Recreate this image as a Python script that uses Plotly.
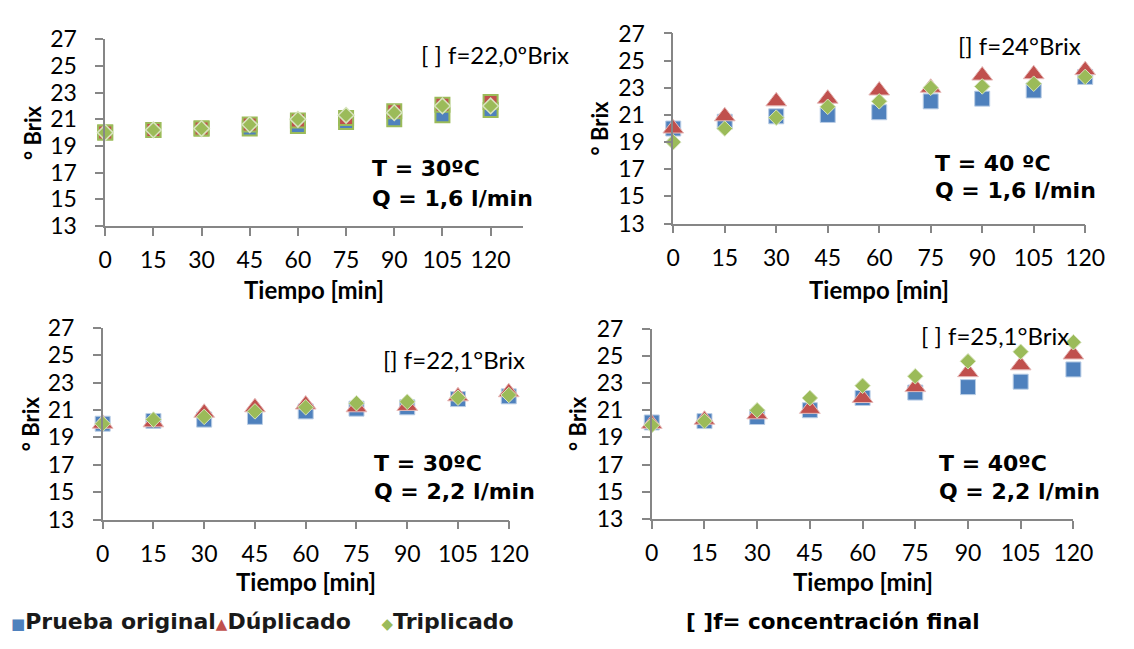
import plotly.graph_objects as go

W, H = 1134, 649

# ---------------- data ----------------
tiempo = [0, 15, 30, 45, 60, 75, 90, 105, 120]
x_ticks = [0, 15, 30, 45, 60, 75, 90, 105, 120]
y_ticks = [13, 15, 17, 19, 21, 23, 25, 27]

# T = 30 C, Q = 1,6 l/min
orig_30_16 = [20.0, 20.2, 20.3, 20.3, 20.5, 20.8, 21.0, 21.3, 21.7]
dup_30_16 = [20.0, 20.2, 20.3, 20.6, 20.9, 21.1, 21.6, 22.1, 22.3]
tri_30_16 = [20.0, 20.2, 20.3, 20.6, 21.0, 21.3, 21.5, 22.0, 22.0]

# T = 40 C, Q = 1,6 l/min
orig_40_16 = [20.0, 20.5, 20.9, 21.0, 21.2, 22.0, 22.2, 22.8, 23.8]
dup_40_16 = [20.0, 20.9, 22.0, 22.2, 22.8, 23.0, 23.9, 24.0, 24.3]
tri_40_16 = [19.0, 20.0, 20.8, 21.6, 22.0, 23.0, 23.1, 23.3, 23.8]

# T = 30 C, Q = 2,2 l/min
orig_30_22 = [20.0, 20.2, 20.3, 20.5, 20.9, 21.1, 21.2, 21.8, 22.0]
dup_30_22 = [20.0, 20.1, 20.8, 21.2, 21.4, 21.2, 21.3, 22.0, 22.3]
tri_30_22 = [20.0, 20.3, 20.5, 20.9, 21.2, 21.5, 21.6, 21.9, 22.1]

# T = 40 C, Q = 2,2 l/min
orig_40_22 = [20.1, 20.2, 20.5, 21.0, 21.9, 22.3, 22.7, 23.1, 24.0]
dup_40_22 = [20.0, 20.3, 20.7, 21.1, 21.9, 22.7, 23.8, 24.3, 25.1]
tri_40_22 = [19.9, 20.2, 21.0, 21.9, 22.8, 23.5, 24.6, 25.3, 26.0]

series_names = ["Prueba original", "Dúplicado", "Triplicado"]
f_labels = ["[ ] f=22,0ºBrix", "[] f=24°Brix", "[] f=22,1°Brix", "[ ] f=25,1°Brix"]
t_labels = ["T = 30ºC", "T = 40 ºC", "T = 30ºC", "T = 40ºC"]
q_labels = ["Q = 1,6 l/min", "Q = 1,6 l/min", "Q = 2,2 l/min", "Q = 2,2 l/min"]
x_title = "Tiempo [min]"
y_title = "° Brix"
note = "[ ]f= concentración final"

# ---------------- styling ----------------
BLUE, RED, GREEN = "#4F81BD", "#C0504D", "#9BBB59"
AX = "#868686"

def px_x(p):
    return p / W

def px_y(p):
    return 1 - p / H

# panel geometry (pixels): x0, x1 of axis, y of 27 and y of 13, x range max
panels = [
    dict(x0=100.6, x1=528.3, ytop=25.5, ybot=220.3, xmax=130),
    dict(x0=682.5, x1=1104.5, ytop=19.3, ybot=218.0, xmax=120),
    dict(x0=98.0, x1=514.0, ytop=327.0, ybot=527.3, xmax=120),
    dict(x0=660.5, x1=1092.4, ytop=327.8, ybot=526.7, xmax=120),
]
data_sets = [
    (orig_30_16, dup_30_16, tri_30_16),
    (orig_40_16, dup_40_16, tri_40_16),
    (orig_30_22, dup_30_22, tri_30_22),
    (orig_40_22, dup_40_22, tri_40_22),
]

fig = go.Figure()
layout = dict(width=W, height=H, margin=dict(l=0, r=0, t=0, b=0),
              paper_bgcolor="white", plot_bgcolor="white", showlegend=False)

tickfont = dict(family="Lato, Open Sans, sans-serif", size=23, color="black")

for i, (p, (o, d, t3)) in enumerate(zip(panels, data_sets)):
    n = "" if i == 0 else str(i + 1)
    xa, ya = "x" + n, "y" + n
    layout["xaxis" + n] = dict(
        domain=[px_x(p["x0"]), px_x(p["x1"])], anchor=ya, range=[0, p["xmax"]],
        tickmode="array", tickvals=x_ticks, showline=True, linecolor=AX, linewidth=1.5,
        ticks="outside", ticklen=8, tickwidth=1.5, tickcolor=AX, showgrid=False,
        zeroline=False, tickfont=tickfont, ticklabelstandoff=5, fixedrange=True)
    layout["yaxis" + n] = dict(
        domain=[px_y(p["ybot"]), px_y(p["ytop"])], anchor=xa, range=[13, 27],
        tickmode="array", tickvals=y_ticks, showline=True, linecolor=AX, linewidth=1.5,
        ticks="outside", ticklen=8, tickwidth=1.5, tickcolor=AX, showgrid=False,
        zeroline=False, tickfont=tickfont, ticklabelstandoff=14, fixedrange=True)

    if i == 0:
        m_o = dict(symbol="square", size=14, color=BLUE, line=dict(color=GREEN, width=2))
        m_d = dict(symbol="square", size=14, color=RED, line=dict(color=GREEN, width=2))
        m_t = dict(symbol="diamond", size=12, color=GREEN, line=dict(color="#D7E4BD", width=1.5))
    else:
        m_o = dict(symbol="square", size=15, color=BLUE, line=dict(color="#B9CDE5", width=1))
        m_d = dict(symbol="triangle-up", size=18, color=RED, line=dict(color="#E6B9B8", width=1))
        m_t = dict(symbol="diamond", size=12, color=GREEN, line=dict(color="#D7E4BD", width=1))
    for vals, mk, name in zip((o, d, t3), (m_o, m_d, m_t), series_names):
        fig.add_trace(go.Scatter(x=tiempo, y=vals, mode="markers", name=name,
                                 xaxis=xa, yaxis=ya, cliponaxis=False, marker=mk))

fig.update_layout(**layout)

ann = []
def add_text(text, xp, yp, xanchor="center", size=22, family="Lato, sans-serif",
             bold=False, textangle=0, color="black"):
    t = "<b>%s</b>" % text if bold else text
    ann.append(dict(text=t, x=px_x(xp), y=px_y(yp), xref="paper", yref="paper",
                    xanchor=xanchor, yanchor="middle", showarrow=False,
                    textangle=textangle, font=dict(family=family, size=size, color=color)))

f_pos = [(499.5, 41.7), (1037.6, 31.7), (457.5, 360.0), (1012.5, 335.0)]
tq_pos = [(372, 160, 191.7), (949, 155, 183.3), (374, 468.3, 498.3), (953, 468.3, 498.3)]
ytitle_x = [26, 606.5, 24, 585]
xtitle_y = [286.7, 287, 591.7, 591.7]

for i, p in enumerate(panels):
    add_text(f_labels[i], f_pos[i][0], f_pos[i][1], size=24)
    bold_font = "DejaVu Sans, sans-serif"
    add_text(t_labels[i], tq_pos[i][0], tq_pos[i][1], xanchor="left", size=22,
             family=bold_font, bold=True)
    add_text(q_labels[i], tq_pos[i][0], tq_pos[i][2], xanchor="left", size=22,
             family=bold_font, bold=True)
    add_text(y_title, ytitle_x[i], (p["ytop"] + p["ybot"]) / 2, size=22, bold=True,
             textangle=-90)
    add_text(x_title, (p["x0"] + p["x1"]) / 2, xtitle_y[i], size=24, bold=True)

legend_txt = ('<span style="color:%s;font-size:15px">■</span>%s'
              '<span style="color:%s;font-size:15px">▲</span>%s    '
              '<span style="color:%s;font-size:15px">◆</span>%s') % (
    BLUE, series_names[0], RED, series_names[1], GREEN, series_names[2])
add_text(legend_txt, 2, 634, xanchor="left", size=22, family="DejaVu Sans, sans-serif",
         bold=True, color="#1a1a1a")
add_text(note, 846, 634, size=21.5, family="DejaVu Sans, sans-serif", bold=True)

fig.update_layout(annotations=ann)
fig.write_html("out.html")
